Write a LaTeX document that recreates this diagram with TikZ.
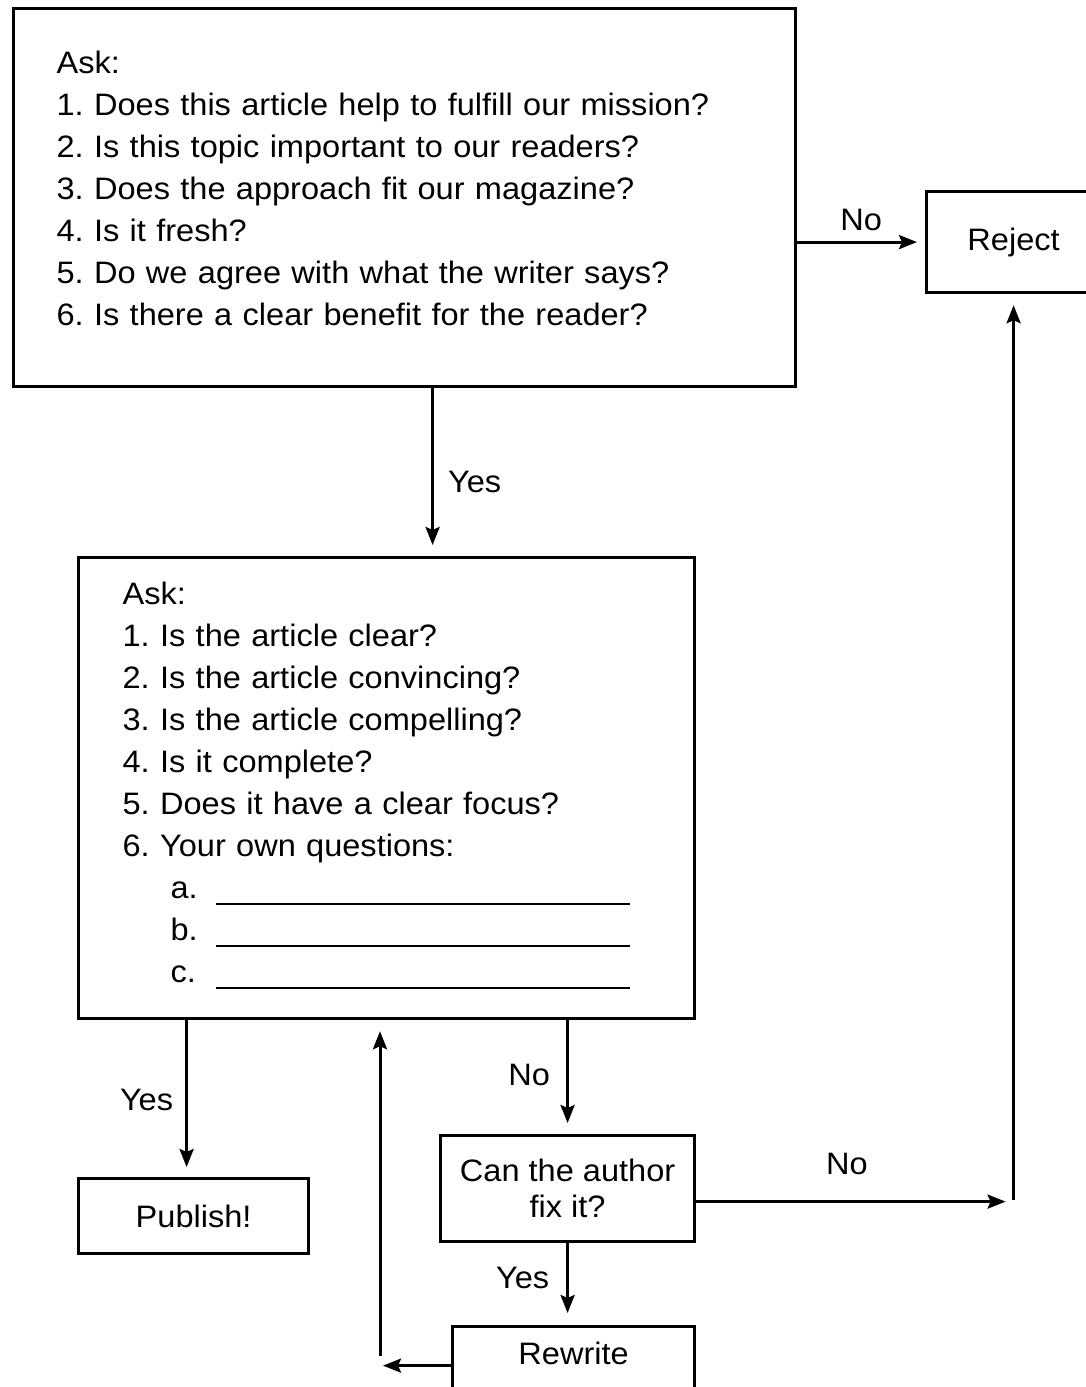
\documentclass[tikz,border=0pt]{standalone}
\usepackage{fontspec}
\setmainfont[FakeStretch=1.05]{Liberation Sans}
\usetikzlibrary{arrows.meta,positioning}
\newcommand\fillin{\raisebox{-6pt}{\rule{414pt}{1.5pt}}}
\frenchspacing
\begin{document}
\begin{tikzpicture}[x=1pt,y=-1pt,
    box/.style={draw,line width=3.2pt,inner sep=0pt,font=\fontsize{31}{42}\selectfont},
    arr/.style={line width=3pt,-{Stealth[length=18pt,width=14pt,inset=3pt]}},
    lbl/.style={font=\fontsize{31}{36}\selectfont,inner sep=0pt}]
  \useasboundingbox (0,0) rectangle (1086,1387);

  % the boxes
  \node[box,anchor=north west,minimum width=782pt,minimum height=378pt,
        text width=696pt,align=left,inner xsep=43pt] (first) at (12,7)
    {Ask:\\
     1. Does this article help to fulfill our mission?\\
     2. Is this topic important to our readers?\\
     3. Does the approach fit our magazine?\\
     4. Is it fresh?\\
     5. Do we agree with what the writer says?\\
     6. Is there a clear benefit for the reader?\rule[-18pt]{0pt}{0pt}};
  \node[box,anchor=north west,minimum width=174pt,minimum height=101pt] (reject) at (925,190) {Reject};
  \node[box,anchor=north west,minimum width=616pt,minimum height=461pt,
        text width=528pt,align=left,inner xsep=44pt] (second) at (77,556)
    {Ask:\\
     1. Is the article clear?\\
     2. Is the article convincing?\\
     3. Is the article compelling?\\
     4. Is it complete?\\
     5. Does it have a clear focus?\\
     6. Your own questions:\\
     \hspace*{48pt}\makebox[45pt][l]{a.}\fillin\\
     \hspace*{48pt}\makebox[45pt][l]{b.}\fillin\\
     \hspace*{48pt}\makebox[45pt][l]{c.}\fillin\rule[-11pt]{0pt}{0pt}};
  \node[box,anchor=north west,minimum width=230pt,minimum height=75pt] (publish) at (77,1177) {Publish!};
  \node[box,anchor=north west,minimum width=254pt,minimum height=106pt,align=center,
        font=\fontsize{31}{36}\selectfont] (fix) at (439,1134) {Can the author\\ fix it?};
  \node[box,anchor=north west,minimum width=242pt,text height=38pt,text depth=40pt] (rewrite) at (451,1325) {Rewrite};

  \coordinate (turn) at ([yshift=-13pt]fix.east -| reject.south);
  \coordinate (back) at ([xshift=-71pt]rewrite.west);

  % connectors
  \draw[arr,shorten >=11pt] ([xshift=28pt]first.south) -- ([xshift=28pt]first.south |- second.north)
    node[lbl,pos=.56,right=14pt] {Yes};
  \draw[arr,shorten >=8pt] (first.east |- reject.west) -- (reject.west)
    node[lbl,midway,above=10pt] {No};
  \draw[arr,shorten >=10pt] ([xshift=-7pt]publish.north |- second.south) -- ([xshift=-7pt]publish.north)
    node[lbl,pos=.51,left=12pt] {Yes};
  \draw[arr,shorten >=11pt] (fix.north |- second.south) -- (fix.north)
    node[lbl,pos=.48,left=16pt] {No};
  \draw[arr,shorten >=12pt] (fix.south) -- (fix.south |- rewrite.north)
    node[lbl,pos=.42,left=17pt] {Yes};
  \draw[arr,shorten >=8pt] ([yshift=-13pt]fix.east) -- (turn)
    node[lbl,pos=.475,above=25pt] {No};
  \draw[arr,shorten >=11pt] ([yshift=2pt]turn) -- (reject.south);
  \draw[arr,shorten >=3pt] (rewrite.west) -- (back);
  \draw[arr,shorten >=11pt] ([yshift=10pt]back) -- (back |- second.south);
\end{tikzpicture}
\end{document}
